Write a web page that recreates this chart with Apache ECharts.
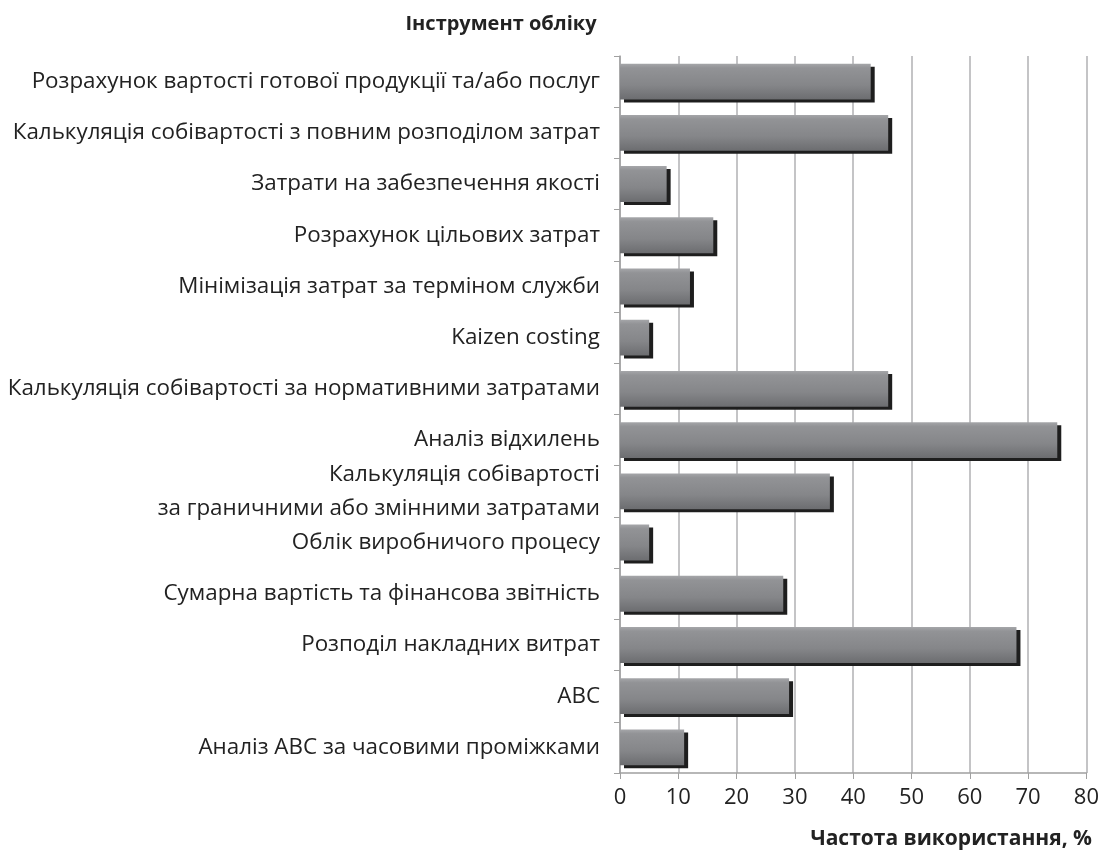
<!DOCTYPE html>
<html>
<head>
<meta charset="utf-8">
<script src="https://cdn.jsdelivr.net/npm/echarts@6/dist/echarts.min.js"></script>
<style>
  html, body { margin: 0; padding: 0; background: #fff; }
  #chart { width: 1102px; height: 852px; }
</style>
</head>
<body>
<div id="chart"></div>
<script>
'use strict';

// категорії (зверху вниз)
const categories = [
    'Розрахунок вартості готової продукції та/або послуг',
    'Калькуляція собівартості з повним розподілом затрат',
    'Затрати на забезпечення якості',
    'Розрахунок цільових затрат',
    'Мінімізація затрат за терміном служби',
    'Kaizen costing',
    'Калькуляція собівартості за нормативними затратами',
    'Аналіз відхилень',
    'Калькуляція собівартості\nза граничними або змінними затратами',
    'Облік виробничого процесу',
    'Сумарна вартість та фінансова звітність',
    'Розподіл накладних витрат',
    'ABC',
    'Аналіз ABC за часовими проміжками'
];

// частота використання, %
const usage = [43, 46, 8, 16, 12, 5, 46, 75, 36, 5, 28, 68, 29, 11];

const xTicks = [0, 80, 10]; // min, max, interval

const font = '"Open Sans", "Noto Sans", sans-serif';

window.addEventListener('load', () => {
    const box = document.getElementById('chart');
    const chart = echarts.init(box, null, { renderer: 'canvas' });

    const option = {
        animation: false,
        backgroundColor: '#fff',
        title: [
            {
                text: 'Інструмент обліку',
                left: 496,
                top: 9,
                textAlign: 'center',
                textStyle: { fontFamily: font, fontSize: 20, fontWeight: 'bold', color: '#222' }
            },
            {
                text: 'Частота використання, %',
                right: 5,
                top: 824,
                textStyle: { fontFamily: font, fontSize: 21, fontWeight: 'bold', color: '#222' }
            }
        ],
        grid: { left: 620, right: 13, top: 56, bottom: 79, containLabel: false },
        xAxis: {
            type: 'value',
            min: xTicks[0],
            max: xTicks[1],
            interval: xTicks[2],
            axisLine: { show: true, lineStyle: { color: '#a0a0a0', width: 1.5 } },
            axisTick: { show: true, length: 6, lineStyle: { color: '#a0a0a0' } },
            splitLine: { show: true, lineStyle: { color: '#c4c4c6', width: 2 } },
            axisLabel: { fontFamily: font, fontSize: 22, color: '#222', margin: 14 }
        },
        yAxis: {
            type: 'category',
            data: categories,
            inverse: true,
            axisLine: { show: true, lineStyle: { color: '#a0a0a0', width: 1.5 } },
            axisTick: { show: true, length: 6, lineStyle: { color: '#a0a0a0' } },
            axisLabel: {
                fontFamily: font, fontSize: 22.4, color: '#222', margin: 20,
                lineHeight: 34, align: 'right'
            }
        },
        series: [
            {
                type: 'bar',
                data: usage,
                barCategoryGap: '30%',
                itemStyle: {
                    color: new echarts.graphic.LinearGradient(0, 0, 0, 1, [
                        { offset: 0, color: '#a5a6a9' },
                        { offset: 0.12, color: '#929396' },
                        { offset: 0.6, color: '#858689' },
                        { offset: 1, color: '#6c6d70' }
                    ]),
                    shadowColor: '#1e1e1e',
                    shadowBlur: 0,
                    shadowOffsetX: 4,
                    shadowOffsetY: 3
                }
            }
        ]
    };

    chart.setOption(option);
});
</script>
</body>
</html>
